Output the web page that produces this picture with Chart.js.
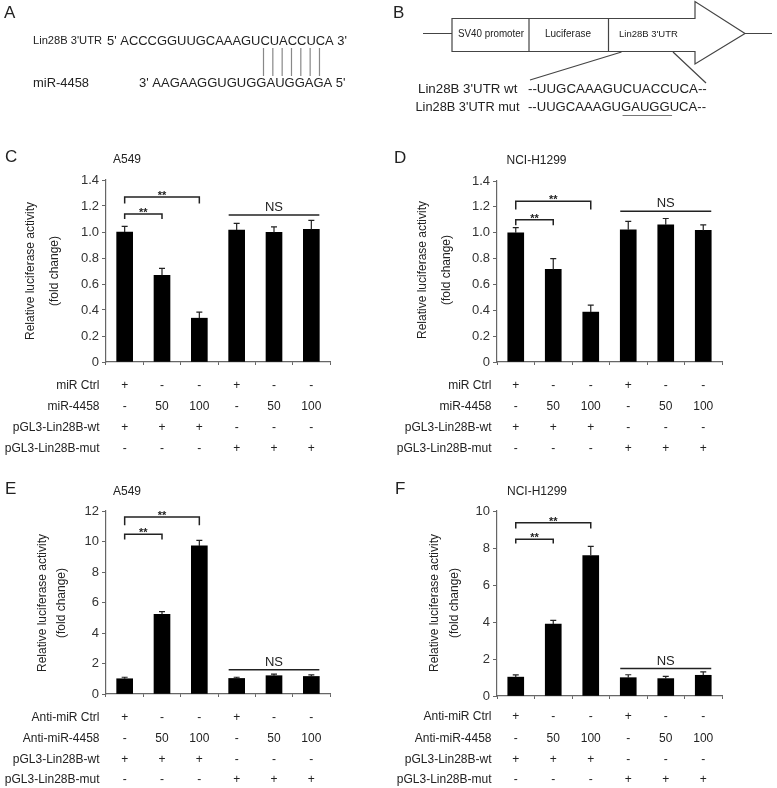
<!DOCTYPE html>
<html lang="en">
<head>
<title>Lin28B 3'UTR luciferase assays</title>
<script src="https://cdn.jsdelivr.net/npm/chart.js"></script>
<style>
  body { margin: 0; background: #fff; }
  #wrap { position: relative; width: 777px; height: 788px; }
  canvas { position: absolute; }
</style>
</head>
<body>
<div id="wrap">
  <canvas id="top" width="777" height="120" style="left:0;top:0"></canvas>
  <canvas id="chartC" width="390" height="340" style="left:0;top:120px"></canvas>
  <canvas id="chartD" width="387" height="340" style="left:390px;top:120px"></canvas>
  <canvas id="chartE" width="390" height="318" style="left:0;top:470px"></canvas>
  <canvas id="chartF" width="387" height="318" style="left:390px;top:470px"></canvas>
</div>
<script>
// groups along the x axis
const groups = ['1', '2', '3', '4', '5', '6'];

// C: A549, miR-4458 mimic
const a549Mimic = [1.00, 0.667, 0.337, 1.015, 0.997, 1.02];
const a549MimicErr = [0.043, 0.053, 0.046, 0.051, 0.043, 0.07];
// D: NCI-H1299, miR-4458 mimic
const h1299Mimic = [1.00, 0.716, 0.386, 1.023, 1.061, 1.018];
const h1299MimicErr = [0.04, 0.084, 0.054, 0.064, 0.049, 0.042];
// E: A549, anti-miR-4458
const a549Anti = [1.00, 5.23, 9.71, 1.02, 1.2, 1.15];
const a549AntiErr = [0.1, 0.17, 0.36, 0.08, 0.1, 0.1];
// F: NCI-H1299, anti-miR-4458
const h1299Anti = [1.02, 3.89, 7.59, 0.99, 0.94, 1.12];
const h1299AntiErr = [0.12, 0.2, 0.5, 0.16, 0.12, 0.18];

// y tick labels
const ticksMimic = [0, 0.2, 0.4, 0.6, 0.8, 1.0, 1.2, 1.4];
const ticksAntiA549 = [0, 2, 4, 6, 8, 10, 12];
const ticksAntiH1299 = [0, 2, 4, 6, 8, 10];

// significance brackets: [from, to, line value, leg value]
const bracketsC = [[0, 1, 1.138, 1.10], [0, 2, 1.27, 1.22]];
const bracketsD = [[0, 1, 1.10, 1.057], [0, 2, 1.243, 1.18]];
const bracketsE = [[0, 1, 10.48, 10.13], [0, 2, 11.6, 11.07]];
const bracketsF = [[0, 1, 8.47, 8.24], [0, 2, 9.37, 9.05]];
// NS line: [from, to, value]
const nsC = [3, 5, 1.13];
const nsD = [3, 5, 1.166];
const nsE = [3, 5, 1.59];
const nsF = [3, 5, 1.48];

// treatment table under each chart
const mimicRowLabels = ['miR Ctrl', 'miR-4458', 'pGL3-Lin28B-wt', 'pGL3-Lin28B-mut'];
const antiRowLabels = ['Anti-miR Ctrl', 'Anti-miR-4458', 'pGL3-Lin28B-wt', 'pGL3-Lin28B-mut'];
const ctrlRow = ['+', '-', '-', '+', '-', '-'];
const doseRow = ['-', '50', '100', '-', '50', '100'];
const wtRow = ['+', '+', '+', '-', '-', '-'];
const mutRow = ['-', '-', '-', '+', '+', '+'];

const FONT = '"Liberation Sans", Arial, sans-serif';
Chart.defaults.font.family = FONT;

function drawTop() {
  const ctx = document.getElementById('top').getContext('2d');
  ctx.fillStyle = '#222';
  ctx.textBaseline = 'middle';
  ctx.font = '17px ' + FONT;
  ctx.fillText('A', 4, 13);
  ctx.fillText('B', 393, 13);

  // panel A: pairing of seed region
  ctx.font = '11.5px ' + FONT;
  ctx.fillText("Lin28B 3'UTR", 33, 41, 69);
  ctx.font = '13px ' + FONT;
  ctx.fillText("5' ACCCGGUUGCAAAGUCUACCUCA 3'", 107, 41, 240);
  ctx.fillText('miR-4458', 33, 83, 56);
  ctx.fillText("3' AAGAAGGUGUGGAUGGAGA 5'", 139, 83, 208);
  ctx.strokeStyle = '#888';
  ctx.lineWidth = 1.2;
  for (let k = 0; k < 7; k++) {
    const lx = 263.5 + k * 9.33;
    ctx.beginPath(); ctx.moveTo(lx, 48); ctx.lineTo(lx, 76); ctx.stroke();
  }

  // panel B: reporter construct
  ctx.strokeStyle = '#444';
  ctx.lineWidth = 1.2;
  ctx.beginPath();
  ctx.moveTo(423, 33.5); ctx.lineTo(452, 33.5);
  ctx.moveTo(745, 33.5); ctx.lineTo(772, 33.5);
  ctx.stroke();
  ctx.beginPath();
  ctx.moveTo(452, 18.5); ctx.lineTo(695, 18.5); ctx.lineTo(695, 1.5);
  ctx.lineTo(745, 33.5); ctx.lineTo(695, 64); ctx.lineTo(695, 51.5);
  ctx.lineTo(452, 51.5); ctx.closePath();
  ctx.stroke();
  ctx.beginPath();
  ctx.moveTo(529, 18.5); ctx.lineTo(529, 51.5);
  ctx.moveTo(608.5, 18.5); ctx.lineTo(608.5, 51.5);
  ctx.moveTo(621.5, 52); ctx.lineTo(530, 80);
  ctx.moveTo(673, 52); ctx.lineTo(706, 83);
  ctx.stroke();
  ctx.font = '10px ' + FONT;
  ctx.textAlign = 'center';
  ctx.fillText('SV40 promoter', 491, 34, 66);
  ctx.fillText('Luciferase', 568, 34, 46);
  ctx.textAlign = 'left';
  ctx.font = '9.5px ' + FONT;
  ctx.fillText("Lin28B 3'UTR", 619, 34, 60);

  ctx.font = '13.3px ' + FONT;
  ctx.fillText("Lin28B 3'UTR wt", 418, 89, 101);
  ctx.fillText('--UUGCAAAGUCUACCUCA--', 528, 89, 179);
  ctx.fillText("Lin28B 3'UTR mut", 415.5, 107, 104);
  const mut = '--UUGCAAAGUGAUGGUCA--';
  ctx.fillText(mut, 528, 107, 178);
  const u0 = 528 + ctx.measureText('--UUGCAAAGU').width;
  const u1 = 528 + ctx.measureText('--UUGCAAAGUGAUGG').width;
  ctx.strokeStyle = '#777';
  ctx.beginPath(); ctx.moveTo(u0, 115.5); ctx.lineTo(u1, 115.5); ctx.stroke();
}

function makeDecor(p) {
  return {
    id: 'decor',
    afterDraw(chart) {
      const { ctx, scales: { x, y } } = chart;
      const vals = chart.data.datasets[0].data;
      ctx.save();
      ctx.strokeStyle = '#222';
      ctx.fillStyle = '#222';

      // error bars
      ctx.lineWidth = 1.2;
      vals.forEach((v, i) => {
        const px = x.getPixelForValue(i);
        const y0 = y.getPixelForValue(v);
        const y1 = y.getPixelForValue(v + p.err[i]);
        ctx.beginPath();
        ctx.moveTo(px, y0); ctx.lineTo(px, y1);
        ctx.moveTo(px - 3, y1); ctx.lineTo(px + 3, y1);
        ctx.stroke();
      });

      // brackets
      ctx.lineWidth = 1.5;
      ctx.textAlign = 'center';
      ctx.textBaseline = 'alphabetic';
      p.brackets.forEach(([a, b, v, leg]) => {
        const xa = x.getPixelForValue(a), xb = x.getPixelForValue(b);
        const yl = y.getPixelForValue(v), yg = y.getPixelForValue(leg);
        ctx.beginPath();
        ctx.moveTo(xa, yg); ctx.lineTo(xa, yl); ctx.lineTo(xb, yl); ctx.lineTo(xb, yg);
        ctx.stroke();
        ctx.font = 'bold 11px ' + FONT;
        ctx.fillText('**', (xa + xb) / 2, yl + 2);
      });
      const [na, nb, nv] = p.ns;
      const xa = x.getPixelForValue(na) - 8, xb = x.getPixelForValue(nb) + 8;
      const yn = y.getPixelForValue(nv);
      ctx.beginPath(); ctx.moveTo(xa, yn); ctx.lineTo(xb, yn); ctx.stroke();
      ctx.font = '13px ' + FONT;
      ctx.fillText('NS', (xa + xb) / 2, yn - 4);

      // letter, title
      ctx.textAlign = 'left';
      ctx.textBaseline = 'middle';
      ctx.font = '17px ' + FONT;
      ctx.fillText(p.letter, p.letterPos[0], p.letterPos[1]);
      ctx.font = '12px ' + FONT;
      ctx.fillText(p.title, p.titlePos[0], p.titlePos[1]);

      // y axis title
      ctx.save();
      ctx.textAlign = 'center';
      ctx.font = '12px ' + FONT;
      ctx.translate(p.yTitleX[0], p.yTitleY);
      ctx.rotate(-Math.PI / 2);
      ctx.fillText('Relative luciferase activity', 0, 0);
      ctx.restore();
      ctx.save();
      ctx.textAlign = 'center';
      ctx.font = '12px ' + FONT;
      ctx.translate(p.yTitleX[1], p.yTitleY);
      ctx.rotate(-Math.PI / 2);
      ctx.fillText('(fold change)', 0, 0);
      ctx.restore();

      // treatment table
      ctx.font = '12px ' + FONT;
      const rows = [ctrlRow, doseRow, wtRow, mutRow];
      rows.forEach((row, r) => {
        ctx.textAlign = 'right';
        ctx.fillText(p.rowLabels[r], p.tableX, p.rowY[r]);
        ctx.textAlign = 'center';
        row.forEach((s, i) => ctx.fillText(s, x.getPixelForValue(i), p.rowY[r]));
      });
      ctx.restore();
    }
  };
}

function makePanel(id, p) {
  const fmt = p.decimals ? (v => v === 0 ? '0' : v.toFixed(1)) : (v => String(v));
  new Chart(document.getElementById(id), {
    type: 'bar',
    data: {
      labels: groups,
      datasets: [{ data: p.values, backgroundColor: '#000', borderWidth: 0, barThickness: 16 }]
    },
    options: {
      responsive: false,
      animation: false,
      layout: { padding: p.padding },
      plugins: { legend: { display: false }, tooltip: { enabled: false } },
      scales: {
        x: {
          offset: true,
          grid: { offset: true, drawOnChartArea: false, tickLength: 3, color: '#666' },
          border: { color: '#666', width: 1.2 },
          ticks: { display: false },
          afterFit: s => { s.height = 6; }
        },
        y: {
          min: 0,
          max: p.ticks[p.ticks.length - 1],
          grid: { drawOnChartArea: false, tickLength: 4, color: '#666' },
          border: { color: '#666', width: 1.2 },
          ticks: { color: '#333', font: { size: 13 }, padding: 3, callback: fmt },
          afterBuildTicks: s => { s.ticks = p.ticks.map(v => ({ value: v })); },
          afterFit: s => { s.width = p.yWidth; }
        }
      }
    },
    plugins: [makeDecor(p)]
  });
}

drawTop();

makePanel('chartC', {
  values: a549Mimic, err: a549MimicErr, ticks: ticksMimic, decimals: true,
  brackets: bracketsC, ns: nsC, letter: 'C', title: 'A549',
  rowLabels: mimicRowLabels,
  padding: { top: 60, right: 60, bottom: 92, left: 0 }, yWidth: 106,
  letterPos: [5, 37], titlePos: [113, 40], yTitleX: [31, 55], yTitleY: 151,
  tableX: 99.5, rowY: [266, 287, 308, 329]
});
makePanel('chartD', {
  values: h1299Mimic, err: h1299MimicErr, ticks: ticksMimic, decimals: true,
  brackets: bracketsD, ns: nsD, letter: 'D', title: 'NCI-H1299',
  rowLabels: mimicRowLabels,
  padding: { top: 61, right: 55, bottom: 92, left: 0 }, yWidth: 107,
  letterPos: [4, 38], titlePos: [116.5, 41], yTitleX: [33, 57], yTitleY: 150,
  tableX: 101.5, rowY: [266, 287, 308, 329]
});
makePanel('chartE', {
  values: a549Anti, err: a549AntiErr, ticks: ticksAntiA549, decimals: false,
  brackets: bracketsE, ns: nsE, letter: 'E', title: 'A549',
  rowLabels: antiRowLabels,
  padding: { top: 41, right: 60, bottom: 88, left: 0 }, yWidth: 106,
  letterPos: [5, 19], titlePos: [113, 22], yTitleX: [43, 62], yTitleY: 133,
  tableX: 99.5, rowY: [247.5, 268.5, 290, 310]
});
makePanel('chartF', {
  values: h1299Anti, err: h1299AntiErr, ticks: ticksAntiH1299, decimals: false,
  brackets: bracketsF, ns: nsF, letter: 'F', title: 'NCI-H1299',
  rowLabels: antiRowLabels,
  padding: { top: 41, right: 55, bottom: 86, left: 0 }, yWidth: 107,
  letterPos: [5, 19], titlePos: [117, 22], yTitleX: [45, 65], yTitleY: 133,
  tableX: 101.5, rowY: [246.5, 268.5, 289.5, 310]
});
</script>
</body>
</html>
